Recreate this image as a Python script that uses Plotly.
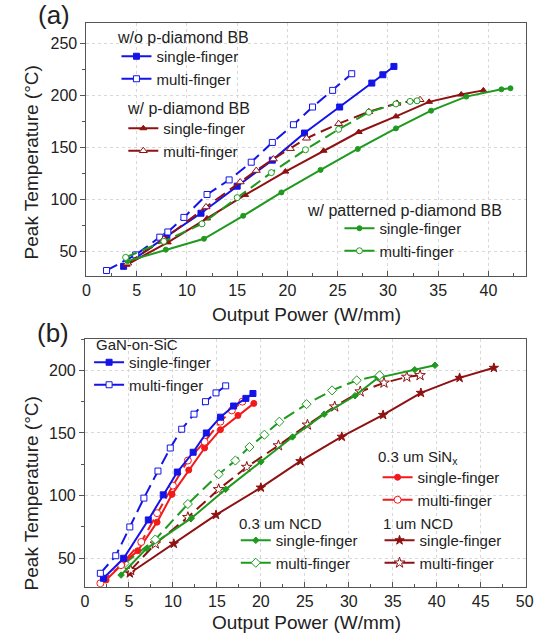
import plotly.graph_objects as go

W, H = 545, 638

# ---------------- Panel (a) data ----------------
a_wo_single_x = [3.7, 8.0, 11.4, 15.0, 18.5, 21.7, 25.2, 28.4, 29.5, 30.6]
a_wo_single_y = [36, 65, 87, 113, 138, 164, 189, 212, 220, 228]
a_wo_multi_x = [2.0, 4.9, 7.3, 8.1, 9.7, 12.0, 14.2, 16.4, 18.5, 20.6, 22.5, 24.5, 26.4]
a_wo_multi_y = [32, 47, 64, 69, 83, 105, 119, 136, 155, 172, 189, 205, 221]
a_w_single_x = [4.0, 8.1, 12.0, 15.8, 19.8, 23.6, 27.1, 30.8, 34.1, 37.3, 39.5]
a_w_single_y = [37.5, 59, 82, 104.6, 127, 147, 165, 180, 194, 201, 205]
a_w_multi_x = [4.1, 7.7, 11.9, 15.3, 16.9, 18.6, 20.3, 21.9, 25.1, 28.1, 30.9, 33.2]
a_w_multi_y = [39, 62, 93, 117, 128, 139, 149, 159, 173, 184.5, 192.5, 196]
a_pat_single_x = [4.1, 7.9, 11.7, 15.6, 19.4, 23.3, 27.0, 30.8, 34.3, 37.8, 41.3, 42.2]
a_pat_single_y = [41, 52, 62.5, 84.5, 107, 128.6, 148.7, 168.5, 185.5, 199, 206, 207]
a_pat_multi_x = [3.9, 7.7, 11.5, 15.0, 18.4, 21.8, 25.1, 28.1, 30.8, 32.2, 32.9]
a_pat_multi_y = [44.6, 60, 76.8, 102, 126, 148, 167.6, 184, 192, 194.4, 195]

# ---------------- Panel (b) data ----------------
b_sic_single_x = [2.1, 4.4, 7.2, 8.9, 10.5, 12.3, 13.8, 15.4, 16.9, 18.3, 19.1]
b_sic_single_y = [34, 50, 80.6, 100.6, 118.8, 134.6, 150, 162.6, 171.5, 177.6, 181.5]
b_sic_multi_x = [1.75, 3.5, 5.1, 6.7, 8.3, 9.7, 11.0, 12.4, 13.7, 14.9, 16.0]
b_sic_multi_y = [38, 52, 75, 98, 119.6, 138, 153, 165, 175, 182, 187.6]
b_sin_single_x = [2.4, 4.2, 6.0, 8.2, 9.9, 11.8, 13.6, 15.4, 17.4, 19.2]
b_sin_single_y = [32.6, 45, 56, 78.8, 101, 120.4, 138, 152.6, 164, 173.6]
b_sin_multi_x = [1.75, 4.1, 6.4, 8.2, 10.0, 11.7, 13.6, 15.4, 16.7, 17.9]
b_sin_multi_y = [30, 44.5, 63, 86, 108, 128, 143, 159, 168, 175]
b_ncd03_single_x = [4.1, 7.0, 12.1, 16.0, 20.0, 23.6, 27.2, 30.7, 33.3, 37.5, 39.8]
b_ncd03_single_y = [36.6, 57.7, 82, 105, 127, 146.8, 165, 179.7, 194, 200.5, 204]
b_ncd03_multi_x = [4.5, 8.0, 11.7, 15.2, 17.1, 18.7, 20.4, 22.1, 25.2, 28.1, 30.9, 33.5]
b_ncd03_multi_y = [45.8, 65, 93.3, 117, 128, 138.8, 148.6, 159, 173, 184, 192, 196]
b_ncd1_single_x = [5.1, 10.1, 14.9, 20.0, 24.5, 29.2, 33.9, 38.2, 42.6, 46.5]
b_ncd1_single_y = [38, 61.6, 84.6, 106.4, 127.5, 147, 164.4, 182, 194, 202]
b_ncd1_multi_x = [5.2, 8.0, 11.7, 15.2, 18.4, 22.0, 25.3, 28.4, 31.3, 34.0, 36.6, 38.1]
b_ncd1_multi_y = [40.5, 61.6, 82.7, 105, 122.8, 140, 156.5, 171, 183, 190, 194.7, 196]

# group headings
group_titles = ['w/o p-diamond BB', 'w/ p-diamond BB', 'w/ patterned p-diamond BB',
                'GaN-on-SiC', '0.3 um SiN<sub>x</sub>', '0.3 um NCD', '1 um NCD']

BLUE = '#1414e8'
DRED = '#8e1212'
GREEN = '#1f9a1f'
RED = '#f21a1a'
TXT = '#222222'
FONT = 'Liberation Sans, Arial, sans-serif'


def px(p):
    return p / W


def py(p):
    return 1 - p / H


fig = go.Figure()


def add(xs, ys, color, symbol, size, filled, dashed, name, axis, legend):
    fig.add_trace(go.Scatter(
        x=xs, y=ys, mode='lines+markers', name=name,
        xaxis='x' if axis == 1 else 'x2', yaxis='y' if axis == 1 else 'y2',
        legend=legend,
        line=dict(color=color, width=2, dash='12px,6px' if dashed else 'solid'),
        marker=dict(symbol=symbol, size=size,
                    color=color if filled else 'white',
                    line=dict(color=color, width=1)),
    ))


add(a_wo_single_x, a_wo_single_y, BLUE, 'square', 6, True, False, 'single-finger', 1, 'legend')
add(a_wo_multi_x, a_wo_multi_y, BLUE, 'square', 6, False, True, 'multi-finger', 1, 'legend')
add(a_w_single_x, a_w_single_y, DRED, 'triangle-up', 6, True, False, 'single-finger', 1, 'legend2')
add(a_w_multi_x, a_w_multi_y, DRED, 'triangle-up', 7, False, True, 'multi-finger', 1, 'legend2')
add(a_pat_single_x, a_pat_single_y, GREEN, 'circle', 5, True, False, 'single-finger', 1, 'legend3')
add(a_pat_multi_x, a_pat_multi_y, GREEN, 'circle', 6, False, True, 'multi-finger', 1, 'legend3')

add(b_ncd1_single_x, b_ncd1_single_y, DRED, 'star', 7, True, False, 'single-finger', 2, 'legend7')
add(b_ncd1_multi_x, b_ncd1_multi_y, DRED, 'star', 8, False, True, 'multi-finger', 2, 'legend7')
add(b_ncd03_single_x, b_ncd03_single_y, GREEN, 'diamond', 5, True, False, 'single-finger', 2, 'legend6')
add(b_ncd03_multi_x, b_ncd03_multi_y, GREEN, 'diamond', 7, False, True, 'multi-finger', 2, 'legend6')
add(b_sin_single_x, b_sin_single_y, RED, 'circle', 6, True, False, 'single-finger', 2, 'legend5')
add(b_sin_multi_x, b_sin_multi_y, RED, 'circle', 7, False, True, 'multi-finger', 2, 'legend5')
add(b_sic_single_x, b_sic_single_y, BLUE, 'square', 6, True, False, 'single-finger', 2, 'legend4')
add(b_sic_multi_x, b_sic_multi_y, BLUE, 'square', 6, False, True, 'multi-finger', 2, 'legend4')


def leg(x, y):
    return dict(x=px(x), y=py(y), xanchor='left', yanchor='top',
                bgcolor='rgba(0,0,0,0)', borderwidth=0, itemwidth=30,
                font=dict(size=15, color=TXT, family=FONT), traceorder='normal',
                tracegroupgap=0, itemclick=False)


axis_common = dict(showline=True, mirror=True, linecolor='#555555', linewidth=1,
                   showgrid=True, gridcolor='#d8d8d8', griddash='dot', gridwidth=1,
                   zeroline=False, tickfont=dict(size=16, color=TXT, family=FONT),
                   ticklen=5, tickcolor='#555555')

fig.update_layout(
    width=W, height=H, margin=dict(l=0, r=0, t=0, b=0),
    paper_bgcolor='white', plot_bgcolor='white',
    font=dict(family=FONT, color=TXT),
    xaxis=dict(domain=[px(84.3), px(533.3)], range=[0, 43.7], dtick=5, tick0=0,
               ticks='inside', anchor='y',
               minor=dict(ticks='inside', ticklen=3, dtick=2.5, tick0=0, showgrid=False,
                          tickcolor='#555555'),
               **axis_common),
    yaxis=dict(domain=[py(275.7), py(22.7)], range=[27, 270], dtick=50, tick0=0,
               ticks='outside', anchor='x',
               minor=dict(ticks='outside', ticklen=3, dtick=25, tick0=0, showgrid=False,
                          tickcolor='#555555'),
               **axis_common),
    xaxis2=dict(domain=[px(82.8), px(533.3)], range=[0, 50.1], dtick=5, tick0=0,
                ticks='inside', anchor='y2',
                minor=dict(ticks='inside', ticklen=3, dtick=2.5, tick0=0, showgrid=False,
                           tickcolor='#555555'),
                **axis_common),
    yaxis2=dict(domain=[py(586.7), py(339)], range=[27.3, 225], dtick=50, tick0=0,
                ticks='outside', anchor='x2',
                minor=dict(ticks='outside', ticklen=3, dtick=25, tick0=0, showgrid=False,
                           tickcolor='#555555'),
                **axis_common),
    legend=leg(115, 40),
    legend2=leg(122, 112),
    legend3=leg(343, 212),
    legend4=leg(87, 346),
    legend5=leg(382, 461),
    legend6=leg(237, 524),
    legend7=leg(384, 524),
    showlegend=True,
)

title_pos = [(114, 38), (124, 109), (308, 210), (92, 344), (380, 457), (238, 523), (385, 523)]

ann = [
    dict(text='(a)', x=px(51), y=py(15), font=dict(size=26)),
    dict(text='(b)', x=px(50), y=py(333), font=dict(size=26)),
    dict(text='Output Power (W/mm)', x=px(309), y=py(314), font=dict(size=19)),
    dict(text='Output Power (W/mm)', x=px(309), y=py(622), font=dict(size=19)),
    dict(text='Peak Temperature (°C)', x=px(28), y=py(162), font=dict(size=19), textangle=-90),
    dict(text='Peak Temperature (°C)', x=px(28), y=py(493), font=dict(size=19), textangle=-90),
]
for a in ann:
    a.update(xanchor='center')
for i, (t, (x, y)) in enumerate(zip(group_titles, title_pos)):
    ann.append(dict(text=t, x=px(x), y=py(y), font=dict(size=16 if i < 3 else 15),
                    xanchor='left'))
for a in ann:
    a.update(xref='paper', yref='paper', showarrow=False, yanchor='middle')
    a['font'].update(family=FONT, color=TXT)
fig.update_layout(annotations=ann)

fig.write_html('out.html')
